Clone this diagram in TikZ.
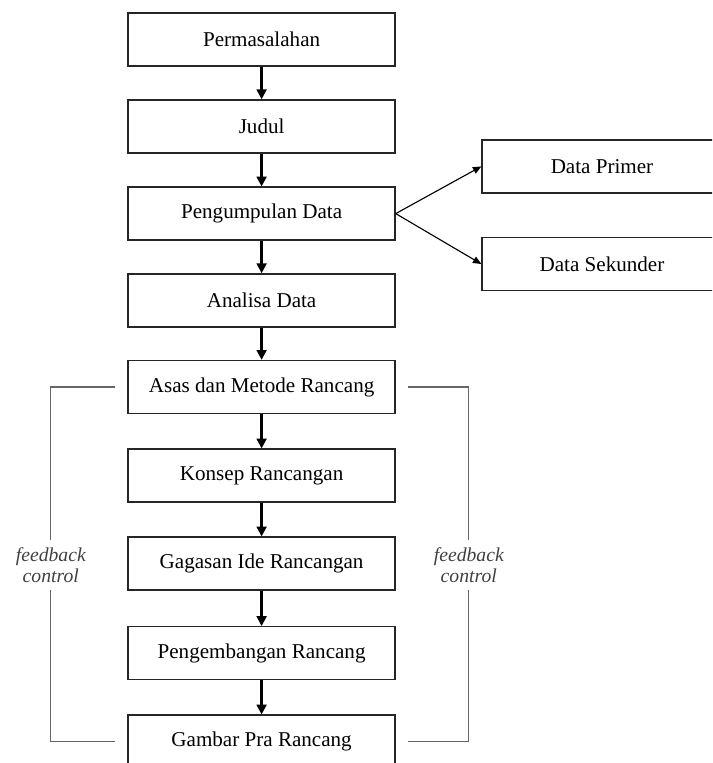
\documentclass[tikz,border=0pt]{standalone}
\usepackage{fontspec}
\setmainfont{Liberation Serif}
\usetikzlibrary{arrows.meta}

\begin{document}
\begin{tikzpicture}[scale=1, transform shape]

        % Define custom styles for boxes and arrows
        \tikzset{
          mybox/.style={rectangle, draw=black!85, line width=0.9pt, minimum width=6.675cm, minimum height=1.325cm, font=\fontsize{15}{18}\selectfont},
          databox/.style={mybox, minimum width=6cm},
          thickarrow/.style={-{Triangle[length=7pt,width=7pt]}, line width=1.6pt},
          thinarrow/.style={-{Triangle[length=6pt,width=5pt]}, line width=0.8pt},
          fbline/.style={draw=black!60, line width=0.8pt},
          fbtext/.style={align=center, inner ysep=5pt, font=\fontsize{14}{15.5}\selectfont\itshape, text=black!75}
        }

        % Fix the frame of the picture (boxes run off the edge)
        \useasboundingbox (0,0) rectangle (17.8,-19.075);
        \clip (0,0) rectangle (17.8,-19.075);

        % Define nodes of the main column
        \node[mybox] (0) at (6.54,-0.99) {Permasalahan};
        \node[mybox] (1) at (6.54,-3.16) {Judul};
        \node[mybox] (2) at (6.54,-5.34) {Pengumpulan Data};
        \node[mybox] (3) at (6.54,-7.51) {Analisa Data};
        \node[mybox] (4) at (6.54,-9.675) {Asas dan Metode Rancang};
        \node[mybox] (5) at (6.54,-11.89) {Konsep Rancangan};
        \node[mybox] (6) at (6.54,-14.09) {Gagasan Ide Rancangan};
        \node[mybox] (7) at (6.54,-16.33) {Pengembangan Rancang};
        \node[mybox] (8) at (6.54,-18.54) {Gambar Pra Rancang};

        % Define nodes for the data sources
        \node[databox] (9) at (15.05,-4.16) {Data Primer};
        \node[databox] (10) at (15.05,-6.6) {Data Sekunder};

        % Draw arrows down the main column
        \draw[thickarrow] (0) -- (1);
        \draw[thickarrow] (1) -- (2);
        \draw[thickarrow] (2) -- (3);
        \draw[thickarrow] (3) -- (4);
        \draw[thickarrow] (4) -- (5);
        \draw[thickarrow] (5) -- (6);
        \draw[thickarrow] (6) -- (7);
        \draw[thickarrow] (7) -- (8);

        % Draw arrows to the data sources
        \draw[thinarrow] (2.east) -- (9.west);
        \draw[thinarrow] (2.east) -- (10.west);

        % Draw feedback brackets with their labels
        \node[fbtext] (11) at (1.27,-14.13) {feedback\\control};
        \node[fbtext] (12) at (11.72,-14.13) {feedback\\control};
        \draw[fbline] ([xshift=-0.3cm]4.west) -| (11.north);
        \draw[fbline] (11.south) |- ([xshift=-0.3cm]8.west);
        \draw[fbline] ([xshift=0.3cm]4.east) -| (12.north);
        \draw[fbline] (12.south) |- ([xshift=0.3cm]8.east);

    \end{tikzpicture}
\end{document}
